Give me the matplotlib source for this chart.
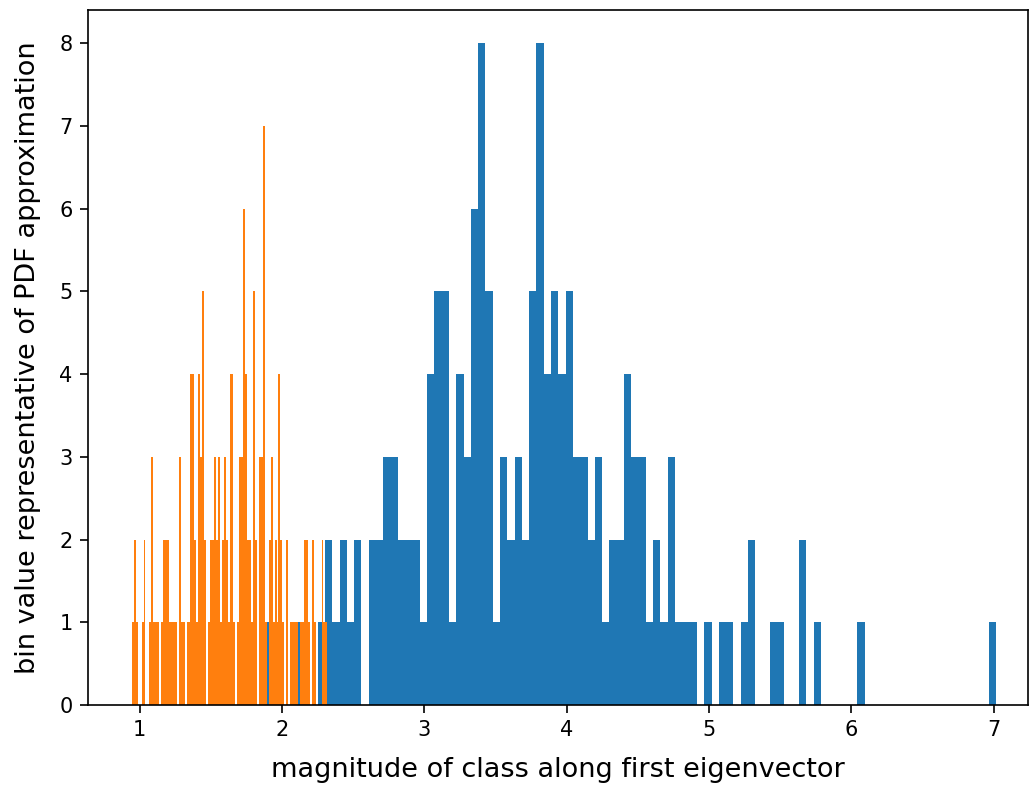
import numpy as np
import matplotlib
matplotlib.use("Agg")
import matplotlib.pyplot as plt

# ----------------------------
# Data
# ----------------------------

# class 1 (blue): 100 bins between these limits
blue_range = (1.8915, 7.015)
blue_counts = [1, 0, 0, 0, 1, 0, 0, 1, 2, 1,
               2, 1, 2, 0, 2, 2, 3, 3, 2, 2,
               2, 1, 4, 5, 5, 1, 4, 3, 6, 8,
               5, 1, 3, 2, 3, 2, 5, 8, 4, 5,
               4, 5, 3, 3, 2, 3, 1, 2, 2, 4,
               3, 3, 1, 2, 1, 3, 1, 1, 1, 0,
               1, 0, 1, 1, 0, 1, 2, 0, 0, 1,
               1, 0, 0, 2, 0, 1, 0, 0, 0, 0,
               0, 1, 0, 0, 0, 0, 0, 0, 0, 0,
               0, 0, 0, 0, 0, 0, 0, 0, 0, 1]

# class 2 (orange): 100 bins between these limits
orange_range = (0.944, 2.318)
orange_counts = [1, 2, 1, 0, 0, 1, 2, 0, 0, 1,
                 3, 1, 1, 1, 0, 1, 2, 2, 2, 1,
                 1, 1, 1, 0, 3, 1, 1, 0, 1, 1,
                 4, 4, 2, 1, 4, 3, 5, 2, 0, 1,
                 2, 2, 3, 2, 3, 1, 2, 3, 2, 1,
                 4, 4, 1, 0, 1, 3, 3, 6, 4, 2,
                 2, 1, 5, 2, 0, 3, 3, 7, 1, 0,
                 2, 3, 1, 2, 1, 4, 2, 1, 0, 2,
                 0, 1, 1, 1, 1, 0, 1, 1, 2, 2,
                 1, 0, 2, 1, 0, 0, 0, 2, 1, 1]

x_label = "magnitude of class along first eigenvector"
y_label = "bin value representative of PDF approximation"


def edges_and_centers(lims, counts):
    edges = np.linspace(lims[0], lims[1], len(counts) + 1)
    centers = 0.5 * (edges[:-1] + edges[1:])
    return edges, centers


# ----------------------------
# Plot
# ----------------------------

plt.rcParams['font.size'] = 15
plt.rcParams['axes.labelsize'] = 19.5
plt.rcParams['axes.linewidth'] = 1.2
plt.rcParams['xtick.major.size'] = 6
plt.rcParams['ytick.major.size'] = 6
plt.rcParams['xtick.major.width'] = 1.2
plt.rcParams['ytick.major.width'] = 1.2
plt.rcParams['xtick.major.pad'] = 5
plt.rcParams['ytick.major.pad'] = 5

fig = plt.figure(figsize=(10.3, 7.86), dpi=100)
ax = fig.add_axes([0.0854, 0.103, 0.9126, 0.884])

b_edges, b_centers = edges_and_centers(blue_range, blue_counts)
o_edges, o_centers = edges_and_centers(orange_range, orange_counts)

ax.hist(b_centers, bins=b_edges, weights=blue_counts, color='C0')
ax.hist(o_centers, bins=o_edges, weights=orange_counts, color='C1')

ax.set_xlim(0.636, 7.24)
ax.set_ylim(0, 8.4)
ax.set_xlabel(x_label, labelpad=12)
ax.set_ylabel(y_label, labelpad=13)

fig.savefig("out.png")
